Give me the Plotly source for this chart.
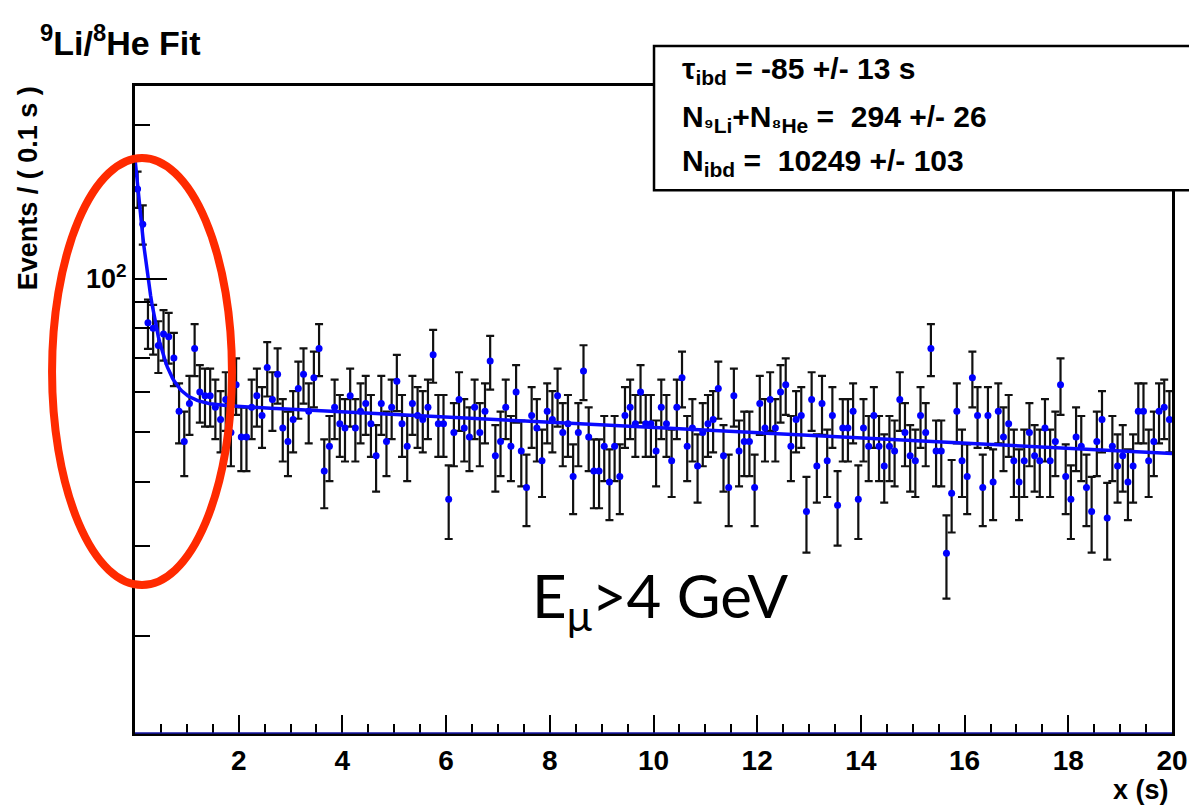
import numpy as np
import plotly.graph_objects as go

# ---- data (events per 0.1 s bin) ----
bin_width = 0.1
n_bins = 200
counts = [
    150, 128, 82, 80, 74, 78, 77, 70, 55, 48,
    57, 73, 60, 59, 59, 56, 53, 58, 50, 62,
    49, 49, 56, 59, 54, 67, 58, 65, 51, 48,
    53, 61, 65, 55, 64, 73, 42, 47, 56, 52,
    51, 59, 51, 55, 57, 52, 45, 57, 48, 56,
    63, 52, 47, 57, 54, 53, 56, 71, 52, 52,
    37, 50, 58, 51, 49, 56, 50, 55, 69, 45,
    48, 56, 47, 60, 46, 39, 54, 51, 44, 55,
    53, 59, 50, 52, 41, 50, 66, 49, 42, 42,
    47, 40, 47, 41, 54, 56, 52, 60, 52, 52,
    46, 56, 52, 44, 56, 64, 47, 51, 43, 50,
    52, 53, 61, 45, 39, 59, 46, 48, 48, 39,
    57, 51, 58, 51, 60, 62, 47, 53, 54, 35,
    58, 43, 57, 44, 54, 36, 51, 51, 55, 37,
    51, 47, 54, 47, 43, 47, 46, 58, 50, 45,
    44, 54, 50, 73, 46, 46, 29, 38, 55, 44,
    41, 64, 54, 39, 54, 40, 55, 49, 52, 44,
    40, 44, 50, 45, 44, 51, 44, 48, 62, 41,
    37, 49, 47, 39, 35, 48, 53, 34, 47, 43,
    45, 40, 43, 55, 55, 44, 48, 55, 56, 53,
]
bin_centers = [bin_width * (i + 0.5) for i in range(n_bins)]
errors = [float(np.sqrt(c)) for c in counts]

# ---- fit parameters (from the stats box) ----
tau_ibd = 85.0        # s (background slope)
n_lihe = 294.0
n_ibd = 10249.0
tau_li9 = 0.257       # s, 9Li mean life
x_max = 20.0

stats_lines = [
    "τ<sub>ibd</sub> = -85 +/- 13 s",
    "N<sub>⁹Li</sub>+N<sub>⁸He</sub> =  294 +/- 26",
    "N<sub>ibd</sub> =  10249 +/- 103",
]
x_ticks = [2, 4, 6, 8, 10, 12, 14, 16, 18, 20]
y_major = [100]
y_major_text = ["10<sup>2</sup>"]
y_minor = [20, 30, 40, 50, 60, 70, 80, 90, 200]

# fit curve evaluated from the model with the fitted parameters
xf = np.linspace(0, x_max, 801)
bkg_norm = tau_ibd * (1 - np.exp(-x_max / tau_ibd))
fit_y = bin_width * (n_ibd * np.exp(-xf / tau_ibd) / bkg_norm
                     + n_lihe * np.exp(-xf / tau_li9) / tau_li9)

FONT = "Liberation Sans"

fig = go.Figure()
fig.add_trace(go.Scatter(
    x=bin_centers, y=counts, mode="markers",
    marker=dict(color="#0000ff", size=7),
    error_y=dict(type="data", array=errors, color="#111111", thickness=2.2, width=4),
    cliponaxis=True,
))
fig.add_trace(go.Scatter(
    x=xf, y=fit_y, mode="lines",
    line=dict(color="#0a0aff", width=3.5),
))

fig.update_layout(
    width=1189, height=806,
    margin=dict(l=135, r=17, t=86, b=73, autoexpand=False),
    plot_bgcolor="white", paper_bgcolor="white",
    showlegend=False,
    xaxis=dict(
        range=[0, x_max], tickmode="array", tickvals=x_ticks,
        ticks="inside", ticklen=18, tickwidth=2, tickcolor="black",
        minor=dict(dtick=0.5, tick0=0, ticks="inside", ticklen=9, tickwidth=2, tickcolor="black"),
        showline=True, linewidth=3, linecolor="black", mirror=True,
        showgrid=False, zeroline=False, automargin=False,
        tickfont=dict(family=FONT, size=28, color="black", weight="bold"),
    ),
    yaxis=dict(
        type="log", range=[1.11, 2.378],
        tickmode="array", tickvals=y_major, ticktext=y_major_text,
        ticks="inside", ticklen=32, tickwidth=2, tickcolor="black",
        minor=dict(tickmode="array", tickvals=y_minor, ticks="inside", ticklen=15,
                   tickwidth=2, tickcolor="black"),
        showline=True, linewidth=3, linecolor="black", mirror=True,
        showgrid=False, zeroline=False, automargin=False,
        tickfont=dict(family=FONT, size=27, color="black", weight="bold"),
    ),
)

shapes = [
    # blue line along the bottom axis
    dict(type="line", xref="paper", yref="paper", x0=0, x1=1, y0=0, y1=0,
         line=dict(color="#1818a8", width=1.5), layer="above"),
    # stats box
    dict(type="rect", xref="paper", yref="paper", x0=0.5005, x1=1.1, y0=0.839, y1=1.062,
         fillcolor="white", line=dict(color="black", width=2.5), layer="above"),
    # red ellipse highlight
    dict(type="circle", xref="paper", yref="paper", x0=-0.080, x1=0.0935, y0=0.2287, y1=0.8887,
         line=dict(color="#ff2a00", width=8), layer="above"),
]
fig.update_layout(shapes=shapes)

annotations = [
    dict(text="<b><sup>9</sup>Li/<sup>8</sup>He Fit</b>", xref="paper", yref="paper",
         x=-0.0935, y=1.071, xanchor="left", yanchor="middle", showarrow=False,
         font=dict(family=FONT, size=34, color="black")),
    dict(text="<b>Events / ( 0.1 s )</b>", xref="paper", yref="paper",
         x=-0.103, y=1.003, xanchor="center", yanchor="top", textangle=-90, showarrow=False,
         font=dict(family=FONT, size=27, color="black")),
    dict(text="<b>x (s)</b>", xref="paper", yref="paper",
         x=0.999, y=-0.088, xanchor="right", yanchor="middle", showarrow=False,
         font=dict(family=FONT, size=27, color="black")),
    dict(text="E<sub>μ</sub>>4 GeV", xref="paper", yref="paper",
         x=0.506, y=0.2056, xanchor="center", yanchor="middle", showarrow=False,
         font=dict(family="Lato", size=60, color="black")),
]
stat_y = [1.0247, 0.9505, 0.881]
for txt, yy in zip(stats_lines, stat_y):
    annotations.append(dict(text="<b>" + txt + "</b>", xref="paper", yref="paper",
                            x=0.5255, y=yy, xanchor="left", yanchor="middle", showarrow=False,
                            font=dict(family=FONT, size=30, color="black")))
fig.update_layout(annotations=annotations)

fig.write_html("out.html", config={"displayModeBar": False},
               post_script="document.body.style.margin='0px';")
